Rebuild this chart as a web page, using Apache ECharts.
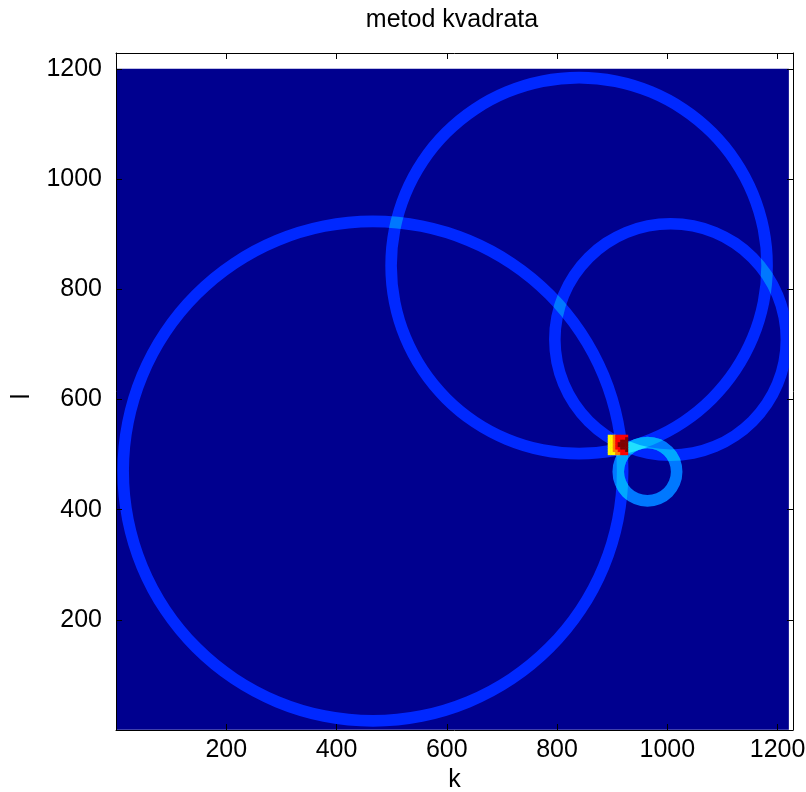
<!DOCTYPE html>
<html><head><meta charset="utf-8">
<script src="https://cdn.jsdelivr.net/npm/echarts@6/dist/echarts.min.js"></script>
<style>html,body{margin:0;padding:0;background:#fff}#c{width:806px;height:792px}</style>
</head><body><div id="c"></div>
<script>
// ---- data ----
const titleText = 'metod kvadrata';
const xName = 'k';
const yName = 'l';
const xMax = 1228;
const yMax = 1229;
const tickStep = 200;
const imageWidth = 1220;
const imageHeight = 1200;
// circles (rings) accumulated in the image
const circleCx = [466, 840, 1006, 964];
const circleCy = [470, 843, 709, 469];
const circleR = [453, 341, 210, 53];
const circleThickness = [21, 21, 21, 21];
const circleWeight = [1, 1, 1, 2];
// colour of accumulated level 0..5 (jet-like)
const levelColors = ['#00008F', '#0028FF', '#0078FF', '#00A8FF', '#20E0FF', '#60FFA0'];
// peak square (normalised jet values), rows from top to bottom
const peakX0 = 892;
const peakY0 = 500;
const peakCell = 4.5;
const Y = 0.63, O = 0.75, R = 0.875, D = 1.0;
const peakRows = [
  [Y, Y, O, R, R, R, R, R],
  [Y, Y, O, R, R, R, R, D],
  [Y, Y, O, R, R, D, D, D],
  [Y, Y, O, R, D, D, D, D],
  [Y, Y, O, R, D, D, D, D],
  [Y, Y, O, R, R, D, D, D],
  [Y, Y, O, O, R, R, R, D],
  [Y, Y, Y, O, O, R, R, R]
];
const jetColors = ['#000080', '#0000FF', '#0080FF', '#00FFFF', '#80FF80', '#FFFF00', '#FF8000', '#FF0000', '#800000'];

// ---- build ----
const FONT = 'Liberation Sans';
const FS = 25;
const nC = circleCx.length;
const subsets = [];
for (let mask = 1; mask < (1 << nC); mask++) {
  const members = [];
  let level = 0;
  for (let i = 0; i < nC; i++) if (mask & (1 << i)) { members.push(i); level += circleWeight[i]; }
  subsets.push({mask, members, level});
}
subsets.sort((a, b) => a.members.length - b.members.length || a.level - b.level);
const ringData = subsets.map(s => [circleCx[s.members[0]], circleCy[s.members[0]], s.level, s.mask, s.members.length]);

const peakData = [];
const nRows = peakRows.length;
peakRows.forEach((row, r) => {
  row.forEach((v, c) => {
    peakData.push([peakX0 + c * peakCell, peakY0 + (nRows - 1 - r) * peakCell, v]);
  });
});
const labelFmt = v => (v > 0 && v % tickStep === 0) ? String(v) : '';

const chart = echarts.init(document.getElementById('c'), null, {renderer: 'canvas'});
const axisLineStyle = {color: '#000', width: 1};
const baseAxis = {
  type: 'value', interval: tickStep, z: 10,
  axisLine: {show: true, onZero: false, lineStyle: axisLineStyle},
  axisTick: {show: true, inside: true, length: 6, lineStyle: axisLineStyle},
  splitLine: {show: false}
};
function imageRect(api) {
  const p0 = api.coord([0.5, imageHeight + 0.5]);
  const p1 = api.coord([imageWidth + 0.5, 0.5]);
  return {x: p0[0], y: p0[1], width: p1[0] - p0[0], height: p1[1] - p0[1]};
}
const option = {
  backgroundColor: '#fff',
  animation: false,
  graphic: [{
    type: 'text', x: 452, y: 8, z: 20,
    style: {text: titleText, font: FS + 'px "Liberation Sans"', fill: '#000', align: 'center', verticalAlign: 'top'}
  }],
  grid: {left: 116, top: 53, width: 677, height: 677, show: false, outerBoundsMode: 'none', containLabel: false},
  visualMap: {
    show: false, type: 'continuous', min: 0, max: 1, dimension: 2, seriesIndex: 2,
    inRange: {color: jetColors}
  },
  xAxis: [
    Object.assign({}, baseAxis, {
      position: 'bottom', min: 0, max: xMax,
      axisLabel: {formatter: labelFmt, fontSize: FS, fontFamily: FONT, color: '#000', margin: 8},
      name: xName, nameLocation: 'middle', nameGap: 34,
      nameTextStyle: {fontSize: FS, fontFamily: FONT, color: '#000'}
    }),
    Object.assign({}, baseAxis, {position: 'top', min: 0, max: xMax, axisLabel: {show: false}})
  ],
  yAxis: [
    Object.assign({}, baseAxis, {
      position: 'left', min: 0, max: yMax,
      axisLabel: {formatter: labelFmt, fontSize: FS, fontFamily: FONT, color: '#000', margin: 14},
      name: yName, nameLocation: 'middle', nameGap: 81, nameRotate: 90,
      nameTextStyle: {fontSize: FS, fontFamily: FONT, color: '#000', padding: [0, 10, 0, 0]}
    }),
    Object.assign({}, baseAxis, {position: 'right', min: 0, max: yMax, axisLabel: {show: false}})
  ],
  series: [
    {
      type: 'custom', name: 'background', xAxisIndex: 0, yAxisIndex: 0, z: 1, silent: true,
      data: [[imageWidth, imageHeight]],
      renderItem: (params, api) => ({type: 'rect', shape: imageRect(api), style: {fill: levelColors[0]}})
    },
    {
      type: 'custom', name: 'rings', xAxisIndex: 0, yAxisIndex: 0, z: 2, silent: true,
      data: ringData,
      renderItem: (params, api) => {
        const ringShape = i => {
          const c = api.coord([circleCx[i], circleCy[i]]);
          return {cx: c[0], cy: c[1],
            r: api.size([circleR[i] + circleThickness[i] / 2, 0])[0],
            r0: api.size([circleR[i] - circleThickness[i] / 2, 0])[0]};
        };
        const mask = api.value(3);
        const level = api.value(2);
        const members = [];
        for (let i = 0; i < nC; i++) if (mask & (1 << i)) members.push(i);
        const color = levelColors[Math.min(level, levelColors.length - 1)];
        let el = {type: 'ring', z2: members.length * 10 + level,
          shape: ringShape(members[members.length - 1]), style: {fill: color}};
        for (let m = members.length - 2; m >= 0; m--) {
          el = {type: 'group', children: [el], clipPath: {type: 'ring', shape: ringShape(members[m])}};
        }
        return {type: 'group', children: [el], clipPath: {type: 'rect', shape: imageRect(api)}};
      }
    },
    {
      type: 'custom', name: 'peak', xAxisIndex: 0, yAxisIndex: 0, z: 3, silent: true,
      data: peakData,
      renderItem: (params, api) => {
        const p0 = api.coord([api.value(0), api.value(1) + peakCell]);
        const s = api.size([peakCell, peakCell]);
        return {type: 'rect', shape: {x: p0[0], y: p0[1], width: s[0] + 0.6, height: s[1] + 0.6},
          style: {fill: api.visual('color')}};
      }
    }
  ]
};
chart.setOption(option);
</script>
</body></html>
